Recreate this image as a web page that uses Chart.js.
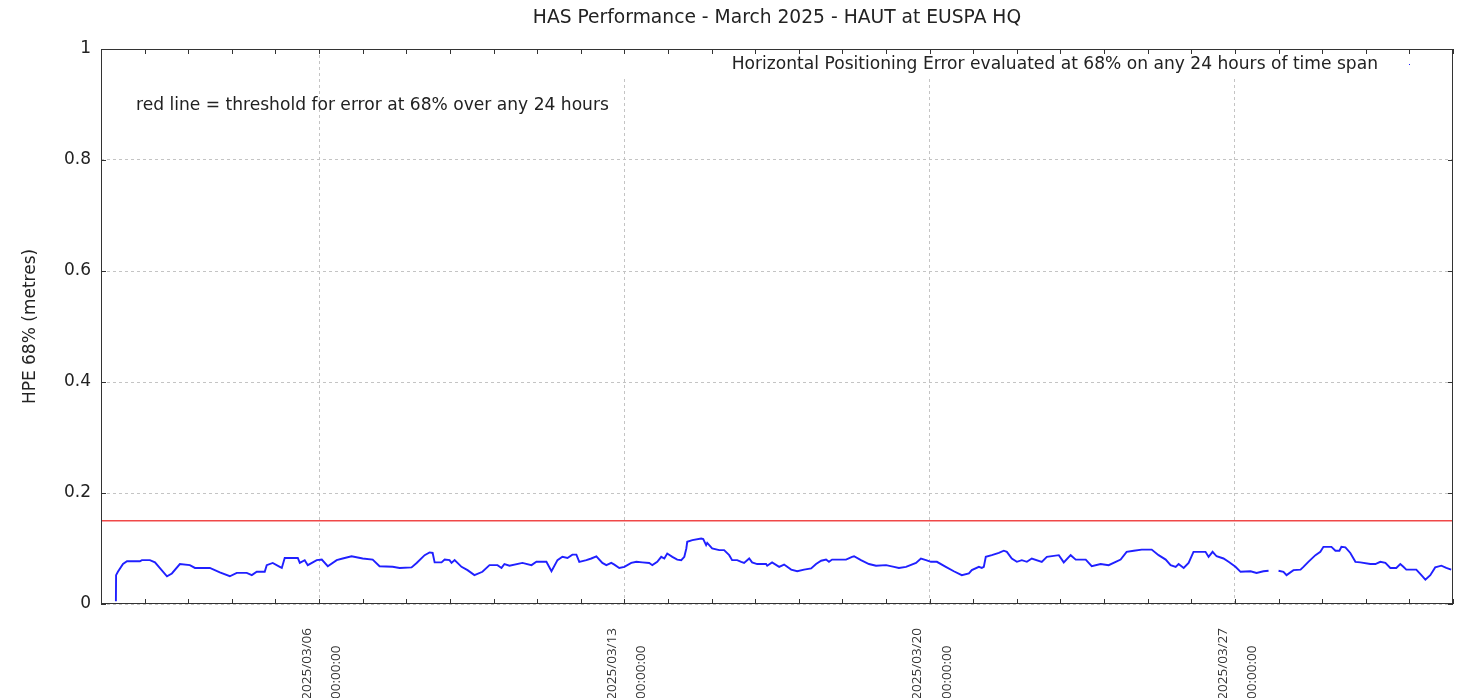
<!DOCTYPE html>
<html>
<head>
<meta charset="utf-8">
<script src="https://cdn.jsdelivr.net/npm/chart.js@4/dist/chart.umd.min.js"></script>
<style>
  body { margin: 0; background: #fff; overflow: hidden; }
  #wrap { width: 1461px; height: 698px; }
</style>
</head>
<body>
<div id="wrap"><canvas id="hasChart" width="1461" height="698"></canvas></div>
<script>
// hours since 2025/03/01 00:00, HPE 68% over the previous 24 hours (metres)
const hours = [
    8.2, 8.3, 9.3, 12.1, 14.3, 21.4, 22.5, 26.9, 29.7, 36.3, 39.0, 43.4, 48.9, 51.7, 59.9, 65.4,
    70.9, 74.7, 80.2, 83.0, 85.7, 90.1, 91.2, 94.5, 98.4, 99.5, 101.1, 108.3, 109.4, 112.1, 113.8, 118.7,
    121.5, 124.8, 129.7, 133.0, 137.9, 144.0, 149.5, 153.3, 160.5, 164.3, 170.9, 173.7, 178.1, 180.8, 182.5, 183.6,
    187.4, 189.1, 191.8, 192.9, 194.6, 198.4, 201.7, 205.5, 209.9, 213.8, 218.2, 220.4, 222.0, 224.8, 231.9, 236.9,
    239.6, 245.1, 247.9, 251.2, 253.9, 256.7, 259.4, 261.6, 263.2, 267.1, 269.8, 272.6, 275.9, 278.1, 280.8, 282.5,
    285.2, 288.0, 291.8, 294.6, 297.9, 301.7, 303.4, 306.1, 308.3, 310.0, 311.6, 314.4, 317.1, 319.3, 321.0, 322.1,
    322.6, 325.4, 330.3, 331.4, 333.0, 333.6, 336.3, 340.2, 342.9, 345.7, 347.3, 350.1, 352.3, 353.9, 356.7, 358.3,
    361.1, 366.0, 366.6, 369.3, 373.2, 375.9, 379.8, 383.1, 386.9, 390.8, 393.5, 396.3, 399.0, 400.6, 402.3, 410.0,
    413.3, 414.4, 418.2, 422.6, 426.5, 432.0, 436.4, 439.1, 443.0, 448.5, 451.2, 454.0, 456.7, 460.0, 464.9, 469.3,
    473.7, 477.6, 479.2, 483.1, 484.7, 485.8, 486.9, 490.2, 494.1, 496.8, 498.5, 501.2, 504.0, 506.7, 509.5, 512.2,
    517.7, 520.5, 527.1, 529.8, 533.6, 536.4, 541.9, 545.2, 550.1, 554.5, 558.4, 561.1, 564.4, 568.3, 572.7, 578.2,
    582.0, 585.9, 588.6, 591.4, 593.0, 595.8, 598.5, 601.2, 607.8, 609.5, 611.7, 613.9, 617.7, 620.5, 624.3, 627.1,
    632.6, 635.9, 639.7, 642.5, 645.0, 648.0, 650.7, 652.4, 656.2, 660.1, 661.7, 664.4, 668.3, 671.0, 672.7, 677.1,
    679.3, 681.5, 682.6, 684.8, 687.5, 690.3, 693.0, 698.5, 701.3, 704.0, 706.8, 709.5, 712.8, 715.0, 716.7, 718.3,
    723.8, 726.6, 728.8, 731.5, 734.2, 737.6, 740.3, 743.0
];
const hpe = [
    0.005, 0.052, 0.058, 0.072, 0.077, 0.077, 0.079, 0.079, 0.075, 0.050, 0.055, 0.072, 0.070, 0.065, 0.065, 0.057,
    0.050, 0.056, 0.056, 0.052, 0.058, 0.058, 0.070, 0.074, 0.067, 0.065, 0.083, 0.083, 0.074, 0.079, 0.070, 0.079,
    0.080, 0.068, 0.079, 0.082, 0.086, 0.082, 0.080, 0.068, 0.067, 0.065, 0.066, 0.074, 0.088, 0.093, 0.092, 0.075,
    0.075, 0.080, 0.079, 0.074, 0.079, 0.067, 0.061, 0.052, 0.058, 0.070, 0.070, 0.065, 0.072, 0.069, 0.074, 0.070,
    0.076, 0.076, 0.059, 0.079, 0.085, 0.083, 0.089, 0.089, 0.076, 0.079, 0.082, 0.086, 0.074, 0.070, 0.074, 0.071,
    0.065, 0.067, 0.074, 0.076, 0.075, 0.074, 0.070, 0.076, 0.085, 0.082, 0.091, 0.085, 0.080, 0.079, 0.085, 0.100,
    0.112, 0.115, 0.118, 0.117, 0.106, 0.110, 0.100, 0.097, 0.097, 0.088, 0.079, 0.079, 0.076, 0.074, 0.082, 0.075,
    0.072, 0.072, 0.069, 0.075, 0.067, 0.071, 0.062, 0.059, 0.062, 0.064, 0.072, 0.078, 0.080, 0.076, 0.080, 0.080,
    0.085, 0.086, 0.079, 0.072, 0.069, 0.070, 0.067, 0.065, 0.067, 0.074, 0.082, 0.079, 0.076, 0.076, 0.067, 0.059,
    0.052, 0.055, 0.061, 0.067, 0.065, 0.067, 0.085, 0.088, 0.092, 0.096, 0.094, 0.082, 0.076, 0.079, 0.076, 0.082,
    0.076, 0.085, 0.088, 0.075, 0.088, 0.080, 0.080, 0.068, 0.072, 0.070, 0.076, 0.080, 0.094, 0.096, 0.098, 0.098,
    0.088, 0.080, 0.070, 0.067, 0.072, 0.065, 0.074, 0.094, 0.094, 0.085, 0.094, 0.086, 0.082, 0.076, 0.067, 0.058,
    0.059, 0.056, 0.059, 0.060, null, 0.060, 0.058, 0.052, 0.061, 0.062, 0.067, 0.076, 0.088, 0.094, 0.103, 0.103,
    0.096, 0.096, 0.103, 0.102, 0.092, 0.076, 0.075, 0.072, 0.072, 0.076, 0.074, 0.065, 0.065, 0.072, 0.067, 0.062,
    0.062, 0.052, 0.044, 0.052, 0.066, 0.069, 0.065, 0.062
];

const thresholdHours = [0, 744];
const thresholdValues = [0.15, 0.15];

const majorTickHours = [120, 288, 456, 624];
const majorTickDates = ["2025/03/06", "2025/03/13", "2025/03/20", "2025/03/27"];
const majorTickTime = "00:00:00";

const titleText = "HAS Performance - March 2025 - HAUT at EUSPA HQ";
const keyText = "Horizontal Positioning Error evaluated at 68% on any 24 hours of time span";
const noteText = "red line = threshold for error at 68% over any 24 hours";

const FONT = "'DejaVu Sans', sans-serif";
const TEXT = "#222";

const toPoints = (xs, ys) => xs.map((x, i) => ({ x, y: ys[i] }));

const decorations = {
    id: "decorations",
    beforeDatasetsDraw(chart) {
        const { ctx, chartArea: a } = chart;
        // key box hides the grid behind the legend line
        ctx.save();
        ctx.fillStyle = "#fff";
        ctx.fillRect(a.left + 470, a.top + 1, a.right - a.left - 471, 27);
        ctx.restore();
    },
    afterDraw(chart) {
        const { ctx, chartArea: a, scales } = chart;
        ctx.save();
        ctx.fillStyle = TEXT;
        ctx.textBaseline = "middle";

        ctx.font = "18.7px " + FONT;
        ctx.textAlign = "center";
        ctx.fillText(titleText, (a.left + a.right) / 2, 18);

        ctx.font = "17.1px " + FONT;
        ctx.textAlign = "right";
        ctx.fillText(keyText, a.right - 75, a.top + 16);
        ctx.fillStyle = "#2020ff";
        ctx.fillRect(a.right - 44, a.top + 15, 1, 1);

        ctx.fillStyle = TEXT;
        ctx.textAlign = "left";
        ctx.fillText(noteText, a.left + 35, a.top + 57);

        // frame
        ctx.strokeStyle = "#333";
        ctx.lineWidth = 1;
        ctx.strokeRect(a.left + 0.5, a.top + 0.5, a.right - a.left - 1, a.bottom - a.top - 1);

        // inward tick marks
        ctx.beginPath();
        scales.x.ticks.forEach(t => {
            const px = Math.round(scales.x.getPixelForValue(t.value)) + 0.5;
            ctx.moveTo(px, a.bottom);
            ctx.lineTo(px, a.bottom - 5);
            ctx.moveTo(px, a.top);
            ctx.lineTo(px, a.top + 5);
        });
        scales.y.ticks.forEach(t => {
            const py = Math.round(scales.y.getPixelForValue(t.value)) + 0.5;
            ctx.moveTo(a.left, py);
            ctx.lineTo(a.left + 5, py);
            ctx.moveTo(a.right, py);
            ctx.lineTo(a.right - 5, py);
        });
        ctx.stroke();
        ctx.restore();
    }
};

new Chart(document.getElementById("hasChart"), {
    type: "line",
    data: {
        datasets: [
            {
                label: keyText,
                data: toPoints(hours, hpe),
                borderColor: "#2020ff",
                borderWidth: 1.9,
                pointRadius: 0,
                spanGaps: false,
                tension: 0
            },
            {
                label: "threshold",
                data: toPoints(thresholdHours, thresholdValues),
                borderColor: "#f04848",
                borderWidth: 1.5,
                pointRadius: 0
            }
        ]
    },
    options: {
        responsive: false,
        animation: false,
        events: [],
        layout: { padding: { top: 49, right: 8, left: 0, bottom: 0 } },
        plugins: {
            legend: { display: false },
            title: { display: false },
            tooltip: { enabled: false }
        },
        scales: {
            x: {
                type: "linear",
                min: 0,
                max: 744,
                afterFit(scale) {
                    scale.height = 94;
                    scale.paddingLeft = 0;
                    scale.paddingRight = 0;
                },
                border: { display: false, dash: [3, 3] },
                grid: {
                    drawTicks: false,
                    color: c => majorTickHours.includes(c.tick.value) ? "#c4c4c4" : "rgba(0,0,0,0)"
                },
                ticks: {
                    stepSize: 24,
                    autoSkip: false,
                    minRotation: 90,
                    maxRotation: 90,
                    padding: 24,
                    labelOffset: -12,
                    color: "#333",
                    font: { family: "'Open Sans', sans-serif", size: 13.5, lineHeight: 2.15 },
                    callback: v => {
                        const i = majorTickHours.indexOf(v);
                        return i < 0 ? "" : [majorTickDates[i], majorTickTime + "     "];
                    }
                }
            },
            y: {
                min: 0,
                max: 1,
                afterFit(scale) {
                    scale.width = 101;
                    scale.paddingTop = 0;
                    scale.paddingBottom = 0;
                },
                border: { display: false, dash: [3, 3] },
                grid: {
                    drawTicks: false,
                    color: "#c4c4c4"
                },
                ticks: {
                    stepSize: 0.2,
                    padding: 10,
                    color: TEXT,
                    font: { family: FONT, size: 17 },
                    callback: v => String(Number(v.toFixed(1)))
                },
                title: {
                    display: true,
                    text: "HPE 68% (metres)",
                    color: TEXT,
                    font: { family: FONT, size: 17 },
                    padding: { top: 20, bottom: 0 }
                }
            }
        }
    },
    plugins: [decorations]
});
</script>
</body>
</html>
